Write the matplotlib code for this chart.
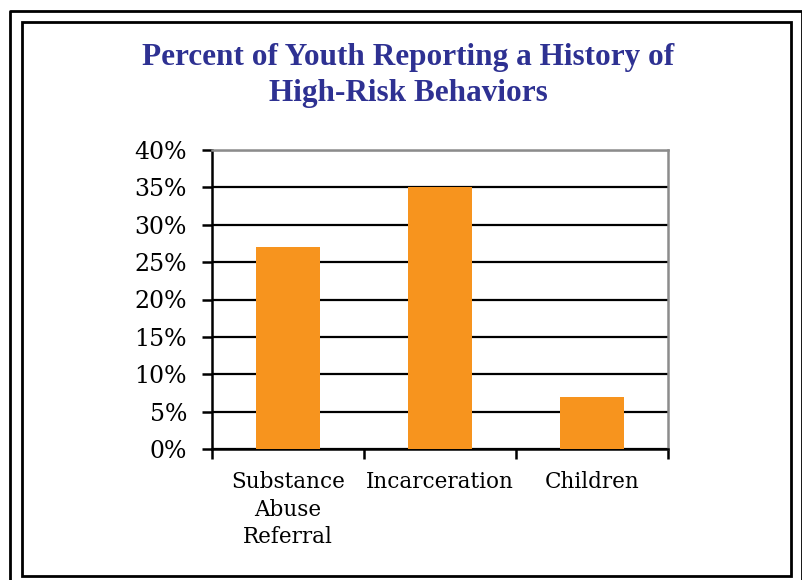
import numpy as np
import matplotlib.pyplot as plt
from matplotlib.patches import Rectangle
from matplotlib.lines import Line2D
from matplotlib.ticker import FuncFormatter

categories = ['Substance\nAbuse\nReferral', 'Incarceration', 'Children']
values = [0.27, 0.35, 0.07]
title = 'Percent of Youth Reporting a History of\nHigh-Risk Behaviors'

W, H = 803, 580
fig = plt.figure(figsize=(W / 100, H / 100), dpi=100)

# double frame around the chart
def px(x, y):
    return x / W, 1 - y / H

x0, y0 = px(10, 11)
x1, _ = px(802, 11)
fig.add_artist(Line2D([x0, x0, x1, x1], [-0.1, y0, y0, -0.1], color='black', lw=2,
                      transform=fig.transFigure))
ix0, iy0 = px(22, 576)
ix1, iy1 = px(791, 22)
fig.add_artist(Rectangle((ix0, iy0), ix1 - ix0, iy1 - iy0, fill=False, ec='black', lw=2,
                         transform=fig.transFigure))

ax = fig.add_axes([212 / W, 1 - 449 / H, (668 - 212) / W, (449 - 150) / H])
x = np.arange(len(categories))
ax.bar(x, values, width=0.42, color='#F7941E', zorder=3)
ax.set_xlim(-0.5, len(categories) - 0.5)
ax.set_ylim(0, 0.40)
ax.set_yticks(np.arange(0, 0.41, 0.05))
ax.yaxis.set_major_formatter(FuncFormatter(lambda v, p: f'{v * 100:.0f}%'))
ax.grid(axis='y', color='black', lw=1.6, zorder=1)
ax.set_axisbelow(True)

ax.set_xticks(np.arange(-0.5, len(categories), 1.0))
ax.set_xticklabels([])
ax.set_xticks(x, minor=True)
ax.set_xticklabels(categories, minor=True, fontsize=15.5, family='DejaVu Serif',
                   linespacing=1.33)
ax.tick_params(axis='x', which='minor', length=0, pad=16)
ax.tick_params(axis='x', which='major', length=7, width=1.8, direction='out')
ax.tick_params(axis='y', length=7, width=1.8, direction='out', pad=11, labelsize=17)
for lab in ax.get_yticklabels():
    lab.set_family('DejaVu Serif')

for s in ['left', 'bottom']:
    ax.spines[s].set_color('black')
    ax.spines[s].set_linewidth(1.8)
for s in ['top', 'right']:
    ax.spines[s].set_color('#8c8c8c')
    ax.spines[s].set_linewidth(1.8)

fig.text(0.508, 1 - 43 / H, title, ha='center', va='top', fontsize=22.5,
         fontweight='bold', family='Liberation Serif', color='#2E3192', linespacing=1.3)

fig.savefig('out.png', dpi=100)
